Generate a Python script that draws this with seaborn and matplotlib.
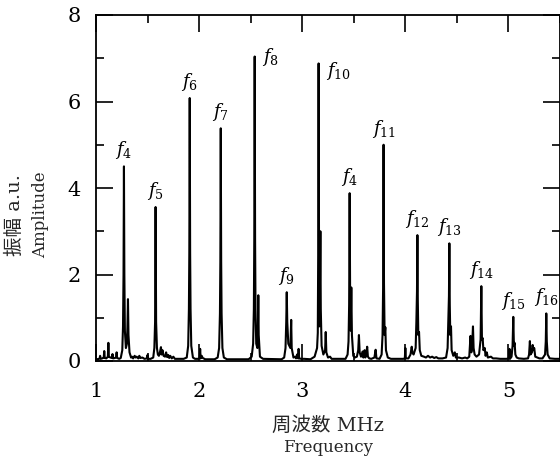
import matplotlib
matplotlib.use("Agg")
import matplotlib.pyplot as plt
import seaborn as sns
import pandas as pd

# ---- data: spectrum trace (frequency in MHz, amplitude a.u.) ----
freq = [
    1.000, 1.020, 1.035, 1.040, 1.045, 1.060, 1.075, 1.080, 1.085, 1.100,
    1.115, 1.120, 1.125, 1.140, 1.155, 1.160, 1.165, 1.185, 1.195, 1.200,
    1.205, 1.225, 1.240, 1.255, 1.262, 1.267, 1.271, 1.275, 1.280, 1.290,
    1.300, 1.305, 1.310, 1.315, 1.325, 1.340, 1.350, 1.360, 1.375, 1.385,
    1.395, 1.410, 1.420, 1.430, 1.450, 1.470, 1.495, 1.500, 1.505, 1.530,
    1.555, 1.566, 1.573, 1.578, 1.583, 1.591, 1.600, 1.610, 1.620, 1.630,
    1.635, 1.645, 1.655, 1.670, 1.680, 1.690, 1.700, 1.710, 1.720, 1.735,
    1.750, 1.765, 1.790, 1.850, 1.880, 1.894, 1.901, 1.905, 1.909, 1.913,
    1.917, 1.924, 1.940, 1.960, 1.990, 2.005, 2.010, 2.015, 2.025, 2.035,
    2.060, 2.150, 2.180, 2.194, 2.202, 2.206, 2.210, 2.214, 2.218, 2.226,
    2.240, 2.270, 2.480, 2.510, 2.524, 2.531, 2.535, 2.539, 2.543, 2.547,
    2.554, 2.565, 2.570, 2.574, 2.578, 2.590, 2.620, 2.800, 2.825, 2.838,
    2.845, 2.850, 2.855, 2.865, 2.885, 2.893, 2.898, 2.915, 2.930, 2.940,
    2.950, 2.960, 2.965, 2.970, 2.990, 3.020, 3.080, 3.120, 3.144, 3.151,
    3.155, 3.159, 3.163, 3.167, 3.172, 3.176, 3.180, 3.188, 3.205, 3.222,
    3.228, 3.234, 3.250, 3.270, 3.285, 3.320, 3.420, 3.440, 3.449, 3.455,
    3.460, 3.465, 3.470, 3.476, 3.482, 3.495, 3.510, 3.530, 3.543, 3.550,
    3.557, 3.570, 3.585, 3.593, 3.605, 3.612, 3.620, 3.630, 3.637, 3.650,
    3.670, 3.700, 3.712, 3.720, 3.750, 3.770, 3.779, 3.785, 3.789, 3.793,
    3.799, 3.806, 3.812, 3.830, 3.860, 3.980, 3.995, 4.000, 4.005, 4.030,
    4.050, 4.062, 4.068, 4.080, 4.100, 4.107, 4.113, 4.117, 4.121, 4.126,
    4.133, 4.140, 4.155, 4.180, 4.200, 4.220, 4.240, 4.260, 4.280, 4.300,
    4.320, 4.360, 4.395, 4.410, 4.417, 4.423, 4.427, 4.431, 4.436, 4.443,
    4.449, 4.465, 4.480, 4.490, 4.520, 4.550, 4.580, 4.600, 4.620, 4.632,
    4.640, 4.648, 4.656, 4.662, 4.672, 4.690, 4.715, 4.730, 4.737, 4.743,
    4.750, 4.757, 4.770, 4.778, 4.790, 4.800, 4.830, 4.850, 4.880, 4.920,
    4.980, 5.005, 5.010, 5.015, 5.030, 5.040, 5.047, 5.053, 5.060, 5.067,
    5.080, 5.100, 5.150, 5.190, 5.200, 5.208, 5.214, 5.228, 5.235, 5.242,
    5.250, 5.260, 5.280, 5.300, 5.330, 5.355, 5.362, 5.367, 5.372, 5.380,
    5.400, 5.450, 5.500,
]
amp = [
    0.05, 0.04, 0.06, 0.12, 0.05, 0.06, 0.08, 0.23, 0.07, 0.06,
    0.10, 0.42, 0.10, 0.08, 0.07, 0.16, 0.06, 0.07, 0.09, 0.20,
    0.07, 0.05, 0.07, 0.25, 0.80, 2.00, 4.50, 2.00, 0.70, 0.30,
    0.40, 0.80, 1.43, 0.60, 0.20, 0.08, 0.10, 0.06, 0.12, 0.08,
    0.10, 0.06, 0.12, 0.07, 0.08, 0.05, 0.06, 0.14, 0.05, 0.05,
    0.08, 0.30, 0.90, 3.56, 0.90, 0.30, 0.15, 0.12, 0.20, 0.32,
    0.15, 0.25, 0.12, 0.10, 0.20, 0.09, 0.14, 0.07, 0.12, 0.06,
    0.10, 0.05, 0.05, 0.05, 0.08, 0.35, 1.20, 2.50, 6.08, 2.50,
    1.20, 0.35, 0.08, 0.05, 0.05, 0.06, 0.28, 0.06, 0.12, 0.07,
    0.04, 0.04, 0.08, 0.30, 1.10, 2.30, 5.38, 2.30, 1.10, 0.30,
    0.08, 0.04, 0.04, 0.10, 0.40, 1.20, 2.80, 7.04, 2.80, 1.20,
    0.40, 0.30, 0.70, 1.52, 0.60, 0.10, 0.05, 0.04, 0.08, 0.30,
    0.90, 1.59, 0.90, 0.40, 0.30, 0.95, 0.30, 0.08, 0.10, 0.06,
    0.15, 0.06, 0.28, 0.06, 0.05, 0.05, 0.04, 0.10, 0.30, 0.65,
    2.50, 6.88, 2.50, 0.80, 1.80, 3.00, 1.20, 0.35, 0.15, 0.25,
    0.67, 0.20, 0.08, 0.10, 0.05, 0.05, 0.05, 0.15, 0.45, 1.30,
    3.88, 1.30, 0.70, 1.70, 0.60, 0.12, 0.08, 0.10, 0.25, 0.60,
    0.20, 0.10, 0.22, 0.08, 0.25, 0.08, 0.15, 0.33, 0.10, 0.06,
    0.05, 0.08, 0.26, 0.06, 0.05, 0.15, 0.60, 1.80, 5.00, 1.80,
    0.60, 0.78, 0.25, 0.08, 0.05, 0.05, 0.06, 0.30, 0.06, 0.06,
    0.15, 0.33, 0.20, 0.15, 0.30, 0.90, 1.60, 2.91, 1.40, 0.60,
    0.67, 0.25, 0.12, 0.10, 0.08, 0.12, 0.08, 0.10, 0.07, 0.09,
    0.06, 0.06, 0.08, 0.30, 0.90, 1.50, 2.72, 1.30, 0.60, 0.80,
    0.25, 0.12, 0.20, 0.08, 0.08, 0.06, 0.08, 0.06, 0.10, 0.58,
    0.20, 0.35, 0.80, 0.30, 0.15, 0.10, 0.15, 0.50, 1.73, 0.50,
    0.53, 0.25, 0.30, 0.12, 0.20, 0.08, 0.10, 0.06, 0.06, 0.05,
    0.05, 0.06, 0.28, 0.05, 0.10, 0.35, 1.02, 0.35, 0.42, 0.15,
    0.08, 0.06, 0.05, 0.06, 0.15, 0.46, 0.15, 0.20, 0.37, 0.25,
    0.30, 0.10, 0.08, 0.06, 0.06, 0.15, 0.45, 1.10, 0.45, 0.15,
    0.06, 0.05, 0.05,
]

# ---- peak labels ----
label_names = ["4", "5", "6", "7", "8", "9", "10", "4", "11", "12", "13", "14", "15", "16"]
label_freq = [1.271, 1.578, 1.909, 2.210, 2.539, 2.850, 3.159, 3.460, 3.789, 4.117, 4.427, 4.737, 5.047, 5.367]
label_amp = [4.50, 3.56, 6.08, 5.38, 7.04, 1.59, 6.88, 3.88, 5.00, 2.91, 2.72, 1.73, 1.02, 1.10]

x_ticks = [1, 2, 3, 4, 5]
y_ticks = [0, 2, 4, 6, 8]

sns.set_theme(style="ticks")
plt.rcParams["font.family"] = ["DejaVu Serif", "Noto Sans CJK JP"]
plt.rcParams["mathtext.fontset"] = "dejavuserif"

W, H = 560, 457
fig = plt.figure(figsize=(W / 100, H / 100), dpi=100)
ax = fig.add_axes([96 / W, 96 / H, (W - 96) / W, (361 - 15) / H])

df = pd.DataFrame({"freq": freq, "amp": amp})
sns.lineplot(data=df, x="freq", y="amp", ax=ax, color="black", linewidth=1.5,
             sort=False, estimator=None)
ax.set_xlabel("")
ax.set_ylabel("")

for name, fx, fy in zip(label_names, label_freq, label_amp):
    if name in ("8", "10"):
        dy = 0.0 if name == "8" else -0.18
        ax.text(fx + 0.07, fy + dy, f"$f_{{{name}}}$", ha="left", va="center",
                fontsize=13, color="black")
    else:
        ax.text(fx, fy + 0.12, f"$f_{{{name}}}$", ha="center", va="bottom",
                fontsize=13, color="black")

ax.set_xlim(1, 5.5)
ax.set_ylim(0, 8)
ax.set_xticks(x_ticks)
ax.set_yticks(y_ticks)
ax.set_xticklabels([str(t) for t in x_ticks])
ax.set_yticklabels([str(t) for t in y_ticks])
ax.xaxis.set_minor_locator(matplotlib.ticker.MultipleLocator(0.5))
ax.yaxis.set_minor_locator(matplotlib.ticker.MultipleLocator(1))
ax.tick_params(which="both", direction="in", top=True, right=True, colors="black",
               width=1.2)
ax.tick_params(which="major", length=12, labelsize=15)
ax.tick_params(which="minor", length=6)
ax.tick_params(axis="x", which="major", pad=15)
ax.tick_params(axis="y", which="major", pad=11)
for s in ax.spines.values():
    s.set_linewidth(1.3)
    s.set_color("black")

# axis titles: Japanese line (larger) + English line
fig.text(328 / W, 1 - 425 / H, "周波数 MHz", ha="center", va="center", fontsize=14)
fig.text(328 / W, 1 - 447 / H, "Frequency", ha="center", va="center", fontsize=12)
fig.text(15 / W, 1 - 215 / H, "振幅 a.u.", ha="center", va="center", fontsize=14,
         rotation=90)
fig.text(41 / W, 1 - 215 / H, "Amplitude", ha="center", va="center", fontsize=12,
         rotation=90)

fig.savefig("out.png", dpi=100)
